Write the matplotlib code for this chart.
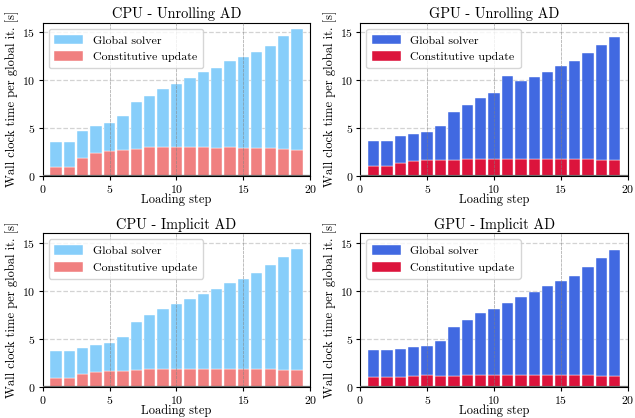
import numpy as np
import matplotlib
matplotlib.use("Agg")
import matplotlib.pyplot as plt

plt.rcParams.update(
    {
        "font.family": "serif",
        "font.serif": ["cmr10", "DejaVu Serif"],
        "mathtext.fontset": "cm",
        "axes.formatter.use_mathtext": True,
        "axes.unicode_minus": False,
        "font.size": 8.5,
        "axes.titlesize": 10.3,
        "axes.labelsize": 9,
        "xtick.labelsize": 8.5,
        "ytick.labelsize": 8.5,
        "legend.fontsize": 8.6,
        "xtick.major.size": 3,
        "ytick.major.size": 3,
        "xtick.major.pad": 2,
        "ytick.major.pad": 2,
    }
)

steps = list(range(20))

# wall clock time per global iteration [s], per loading step
cpu_unroll_const = [0.05, 0.87, 0.87, 1.81, 2.34, 2.55, 2.65, 2.76, 2.96, 2.96, 2.96,
                    2.96, 2.96, 2.86, 2.96, 2.86, 2.86, 2.86, 2.76, 2.65]
cpu_unroll_global = [0.0, 2.62, 2.62, 2.83, 2.82, 2.93, 3.56, 4.91, 5.34, 6.07, 6.60,
                     7.22, 7.89, 8.37, 9.00, 9.52, 10.05, 10.67, 11.82, 12.66]

gpu_unroll_const = [0.05, 1.01, 1.01, 1.33, 1.50, 1.60, 1.60, 1.60, 1.71, 1.71, 1.71,
                    1.71, 1.71, 1.71, 1.71, 1.71, 1.71, 1.71, 1.64, 1.64]
gpu_unroll_global = [0.0, 2.65, 2.65, 2.79, 2.89, 2.93, 3.56, 5.03, 5.65, 6.38, 6.91,
                     8.68, 8.16, 8.58, 9.14, 9.73, 10.25, 11.13, 12.03, 12.83]

cpu_impl_const = [0.05, 0.94, 0.94, 1.32, 1.56, 1.67, 1.67, 1.77, 1.88, 1.88, 1.88,
                  1.88, 1.88, 1.88, 1.88, 1.88, 1.88, 1.88, 1.77, 1.77]
cpu_impl_global = [0.0, 2.74, 2.74, 2.74, 2.82, 2.91, 3.54, 5.00, 5.55, 6.25, 6.70,
                   7.29, 7.84, 8.36, 8.99, 9.37, 10.03, 10.86, 11.81, 12.64]

gpu_impl_const = [0.05, 1.04, 1.04, 1.04, 1.15, 1.25, 1.15, 1.15, 1.25, 1.25, 1.25,
                  1.25, 1.25, 1.25, 1.25, 1.25, 1.25, 1.25, 1.15, 1.15]
gpu_impl_global = [0.0, 2.74, 2.74, 2.85, 2.95, 2.95, 3.64, 5.10, 5.66, 6.39, 6.91,
                   7.53, 8.16, 8.68, 9.24, 9.83, 10.35, 11.22, 12.25, 13.16]

panels = [
    ("CPU - Unrolling AD", cpu_unroll_global, cpu_unroll_const, "lightskyblue", "lightcoral"),
    ("GPU - Unrolling AD", gpu_unroll_global, gpu_unroll_const, "royalblue", "crimson"),
    ("CPU - Implicit AD", cpu_impl_global, cpu_impl_const, "lightskyblue", "lightcoral"),
    ("GPU - Implicit AD", gpu_impl_global, gpu_impl_const, "royalblue", "crimson"),
]

fig, axes = plt.subplots(2, 2, figsize=(6.35, 4.18), dpi=100)
fig.subplots_adjust(left=0.067, right=0.989, top=0.946, bottom=0.075,
                    wspace=0.186, hspace=0.376)

for ax, (title, glob, const, c_glob, c_const) in zip(axes.flat, panels):
    ax.set_axisbelow(True)
    ax.grid(axis="y", ls="--", color="lightgray", lw=0.9)
    ax.bar(steps, const, width=0.85, color=c_const, label="Constitutive update",
           edgecolor="white", linewidth=0.3, zorder=2)
    ax.bar(steps, glob, width=0.85, bottom=const, color=c_glob, label="Global solver",
           edgecolor="white", linewidth=0.3, zorder=2)
    for xv in (5, 10, 15):
        ax.axvline(xv, color="gray", lw=0.6, alpha=0.6, ls=(0, (4, 1)), zorder=3)
    ax.axhline(0, color="0.4", lw=1.6, zorder=4)
    ax.set_xlim(0, 20)
    ax.set_ylim(0, 16)
    ax.set_xticks([0, 5, 10, 15, 20])
    ax.set_yticks([0, 5, 10, 15])
    ax.set_title(title, pad=3)
    ax.set_xlabel("Loading step", labelpad=-1)
    ax.set_ylabel("Wall clock time per global it. [s]", labelpad=2)
    handles, labels = ax.get_legend_handles_labels()
    ax.legend(handles[::-1], labels[::-1], loc="upper left", handlelength=2.4,
              handleheight=0.9, borderpad=0.5, labelspacing=0.45, framealpha=0.8)

fig.savefig("out.png", dpi=100)
